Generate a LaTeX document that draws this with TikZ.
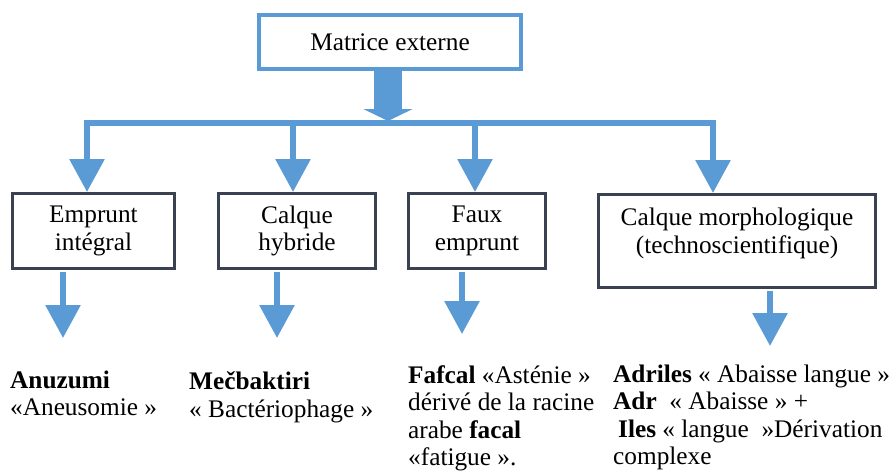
\documentclass[tikz,border=0pt]{standalone}
\usepackage{fontspec}
\setmainfont{Liberation Serif}
\usetikzlibrary{positioning,arrows.meta}
\definecolor{flowblue}{HTML}{5B9BD5}
\definecolor{framegray}{HTML}{3A4251}
\begin{document}
\begin{tikzpicture}[x=1pt, y=-1pt, node distance=203.5pt,
		every node/.style={font=\fontsize{25.3pt}{27.5pt}\selectfont},
		topbox/.style={draw=flowblue, line width=4pt, fill=white, minimum width=262pt, minimum height=54pt},
		catbox/.style={draw=framegray, line width=3pt, align=center, minimum height=75pt, inner xsep=0pt},
		extext/.style={anchor=north west, align=left, inner sep=0pt},
		bar/.style={flowblue, line width=6pt, line cap=rect},
		flow/.style={flowblue, line width=6pt, shorten <=1.5pt, -{Triangle[width=34pt,length=33pt]}},
		bigarrow/.style={flowblue, line width=28pt, -{Triangle[width=49pt,length=12pt]}}]
	\useasboundingbox (0,0) rectangle (892,472);
	\node [topbox] (matrice) at (390,42) {Matrice externe};
	\node [catbox, minimum width=162pt] (emprunt) at (93.5,231) {Emprunt\\intégral};
	\node [catbox, minimum width=157pt] (hybride) [right of=emprunt] {Calque\\hybride};
	\node [catbox, minimum width=137pt] (faux) [right of=hybride, node distance=180pt] {Faux\\emprunt};
	\node [catbox, minimum width=277pt, minimum height=93pt] (morph) [right of=faux, node distance=260pt, yshift=-10pt] {Calque morphologique\\(technoscientifique)\rule[-21pt]{0pt}{21pt}};
	\coordinate (hub) at (388,121);
	\coordinate (t1) at (87,123);
	\coordinate (t2) at (293,123);
	\coordinate (t3) at (475,123);
	\coordinate (t4) at (713,123);
	\coordinate (e1) at (63,338);
	\coordinate (e2) at (277,338);
	\coordinate (e3) at (462,334);
	\coordinate (e4) at (770,346);
	\draw [bigarrow] (matrice.south -| hub) -- (hub);
	\draw [bar] (t1) -- (t4);
	\draw [flow] (t1) -- (emprunt.north -| t1);
	\draw [flow] (t2) -- (hybride.north -| t2);
	\draw [flow] (t3) -- (faux.north -| t3);
	\draw [flow] (t4) -- (morph.north -| t4);
	\draw [flow] (emprunt.south -| e1) -- (e1);
	\draw [flow] (hybride.south -| e2) -- (e2);
	\draw [flow] (faux.south -| e3) -- (e3);
	\draw [flow] (morph.south -| e4) -- (e4);
	\node [extext] (anuzumi) at (10,370.5) {\textbf{Anuzumi}\\«Aneusomie »};
	\node [extext] (mecbaktiri) at (189,371.5) {\textbf{Mečbaktiri}\\« Bactériophage »};
	\node [extext] (fafcal) at (408,365.3) {\textbf{Fafcal} «Asténie »\\dérivé de la racine\\arabe \textbf{facal}\\«fatigue ».};
	\node [extext] (adriles) at (613,364.5) {\textbf{Adriles} « Abaisse langue »\\\textbf{Adr}\ \ « Abaisse » +\\\hspace*{5pt}\textbf{Iles} « langue\ \ »Dérivation\\complexe};
\end{tikzpicture}
\end{document}
